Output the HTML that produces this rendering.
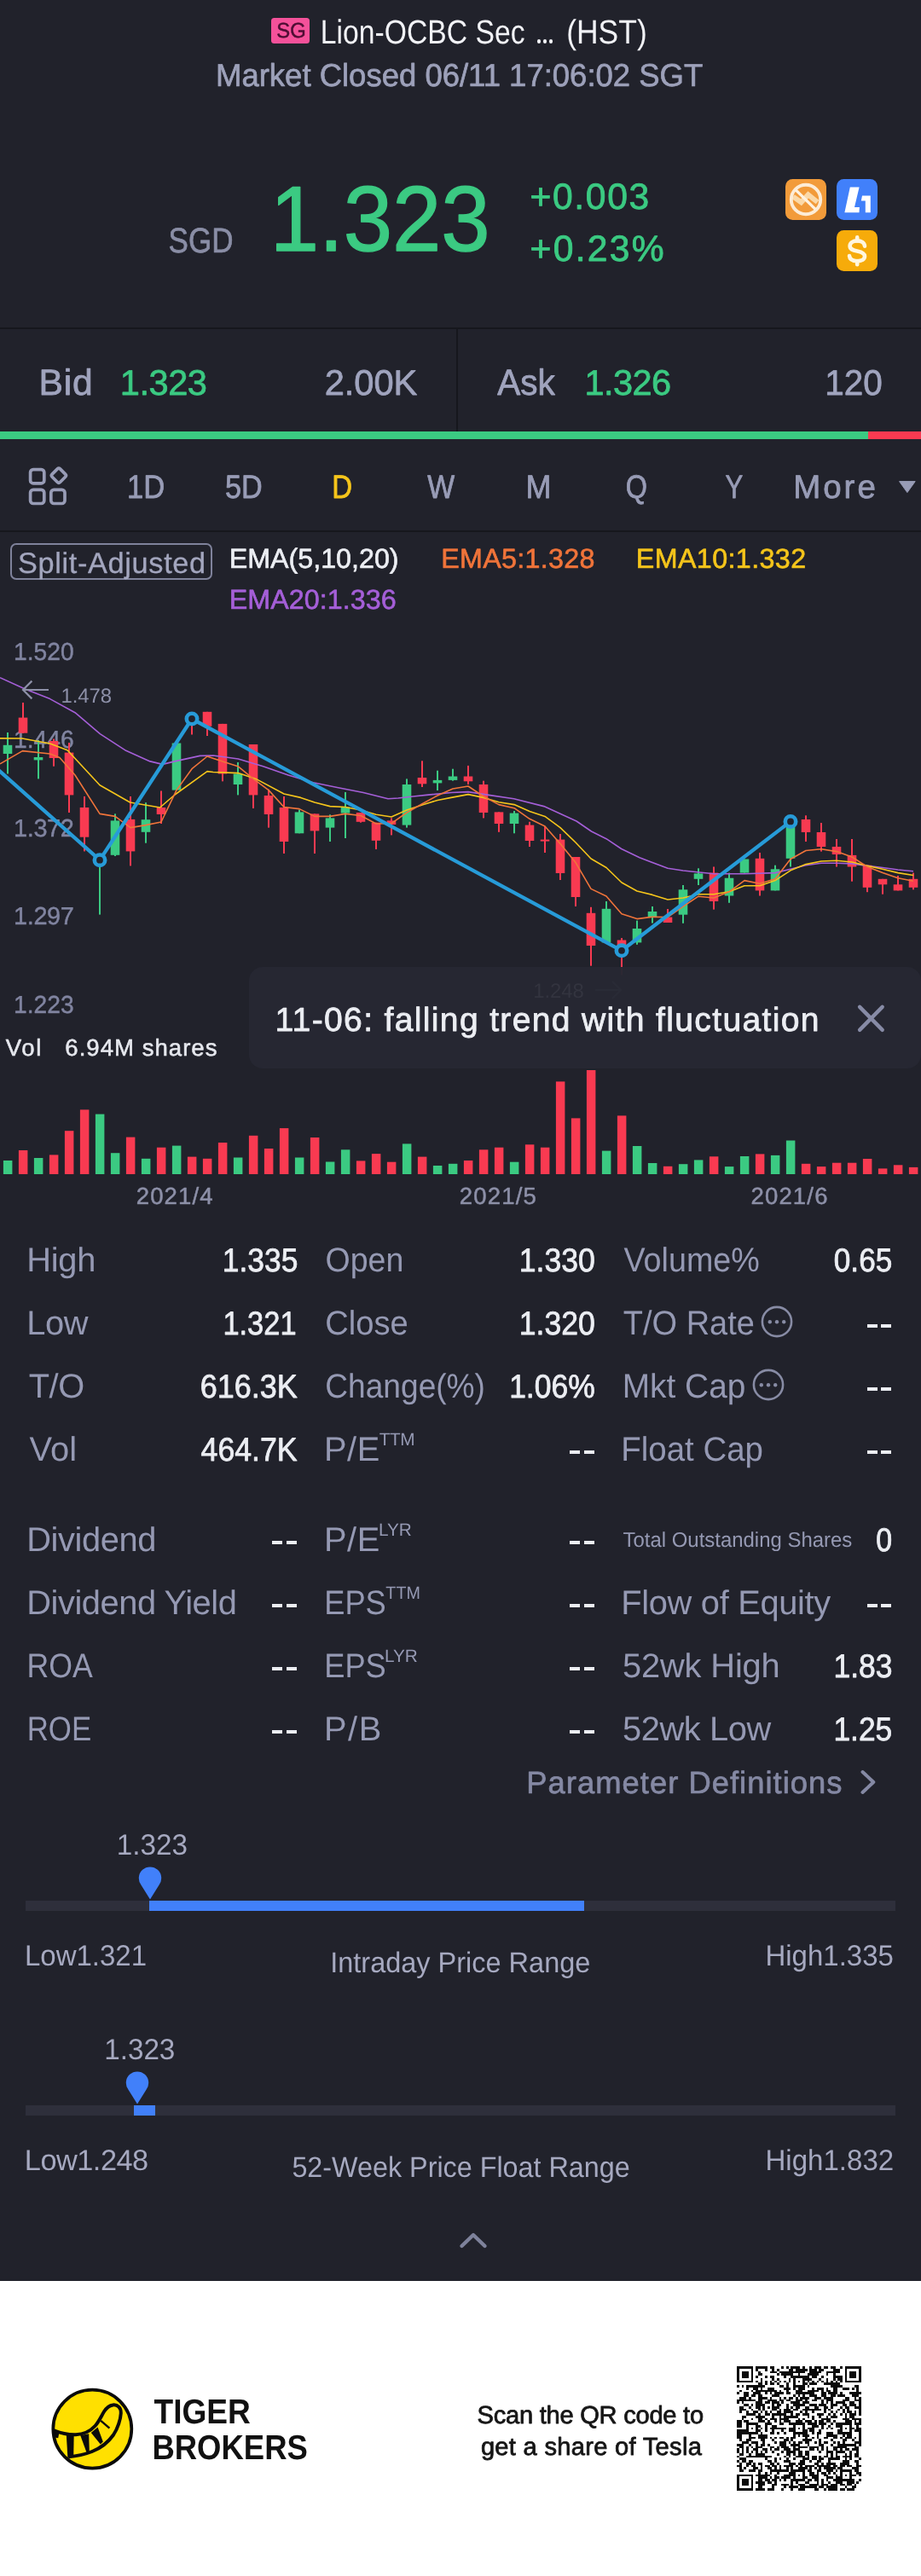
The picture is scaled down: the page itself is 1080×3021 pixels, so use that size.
<!DOCTYPE html>
<html><head><meta charset="utf-8"><title>Lion-OCBC Sec (HST)</title>
<style>
html,body{margin:0;padding:0;}
body{width:1080px;height:3021px;position:relative;overflow:hidden;background:#21222b;font-family:"Liberation Sans",sans-serif;}
.t{position:absolute;white-space:nowrap;line-height:1;margin:0;padding:0;transform-origin:left center;}
.b{position:absolute;display:block;}
</style></head><body>
<div class="b" style="left:317.8px;top:20.6px;width:45.4px;height:30.4px;background:#f4519a;border-radius:3.5px"></div>
<div class="b" style="left:629.7px;top:46.3px;width:4.4px;height:4.4px;border-radius:50%;background:#f1f2f6;box-shadow:7px 0 0 #f1f2f6,14px 0 0 #f1f2f6"></div>
<svg class="b" style="left:921px;top:210px" width="48" height="48" viewBox="0 0 48 48">
<rect width="48" height="48" rx="8.5" fill="#f29b3a"/>
<path d="M9.1 20.6 L18.5 27.2 L26.7 18.4 L37.6 27" fill="none" stroke="#fbd9a8" stroke-width="6" stroke-linejoin="miter"/>
<circle cx="24" cy="24" r="17.2" fill="none" stroke="#fdecd6" stroke-width="3.9"/>
<path d="M12 12.6 L35.4 35.6" stroke="#fef2e0" stroke-width="3.4"/>
</svg>
<svg class="b" style="left:981px;top:210px" width="48" height="48" viewBox="0 0 48 48">
<rect width="48" height="48" rx="8.5" fill="#4180fa"/>
<path d="M15.8 9.6 L26.6 9.6 L21 33 L26.9 33 L26.5 39.2 L9.4 39.2 Z" fill="#fff"/>
<path d="M30 19.4 L39.8 19.4 L39.8 39.2 L33.8 39.2 L33.8 25.4 L28.8 25.4 Z" fill="#fff"/>
</svg>
<svg class="b" style="left:981px;top:270px" width="48" height="48" viewBox="0 0 48 48">
<rect width="48" height="48" rx="8.5" fill="#f6ab0a"/>
<path d="M33 18.6 C32.6 14.4 28.8 12.4 24.2 12.4 C19.2 12.4 15.6 14.8 15.6 18.6 C15.6 22.3 18.6 23.4 24.2 24.5 C29.8 25.6 33 26.9 33 30.6 C33 34.2 29.2 36.2 24.2 36.2 C19 36.2 15.4 34.2 15 30" fill="none" stroke="#fff6de" stroke-width="4.6" stroke-linecap="round"/>
<path d="M24.2 8.4 V12.5 M24.2 36 V40.2" stroke="#fff6de" stroke-width="4.6" stroke-linecap="round"/>
</svg>
<div class="b" style="left:0px;top:384.2px;width:1080px;height:1.6px;background:#16171d;"></div>
<div class="b" style="left:535.2px;top:385px;width:1.6px;height:121px;background:#16171d;"></div>
<div class="b" style="left:0px;top:506px;width:1018px;height:9px;background:#3bca82;"></div>
<div class="b" style="left:1018px;top:506px;width:62px;height:9px;background:#f93a51;"></div>
<svg class="b" style="left:1053px;top:563px" width="22" height="16" viewBox="0 0 22 16"><path d="M1.6 1.6 L20.2 1.6 L10.9 14.6 Z" fill="#989cb6" stroke="#989cb6" stroke-width="1" stroke-linejoin="round"/></svg>
<svg class="b" style="left:32px;top:545px" width="50" height="50" viewBox="0 0 50 50" fill="none" stroke="#989cb6" stroke-width="3.7">
<rect x="3.6" y="5.6" width="16.2" height="16.2" rx="3.4"/>
<rect x="3.6" y="29.3" width="16.2" height="16.2" rx="3.4"/>
<rect x="27.8" y="29.3" width="16.2" height="16.2" rx="3.4"/>
<rect x="30.3" y="6.1" width="13.2" height="13.2" rx="2.2" transform="rotate(45 36.9 12.7)"/>
</svg>
<div class="b" style="left:0px;top:622.3px;width:1080px;height:1.6px;background:#16171d;"></div>
<div class="b" style="left:12.4px;top:636.8px;width:232.6px;height:39px;border:2px solid #7f829b;border-radius:7px"></div>
<svg class="b" style="left:0;top:730px;will-change:transform" width="1080" height="700" viewBox="0 730 1080 700" font-family="Liberation Sans, sans-serif" text-rendering="geometricPrecision">
<text transform="translate(16.08 773.80) scale(0.9751 1)" font-size="28.91" fill="#8084a0" stroke="#8084a0" stroke-width="0.45" stroke-linejoin="round">1.520</text>
<text transform="translate(16.08 877.30) scale(0.9751 1)" font-size="28.91" fill="#8084a0" stroke="#8084a0" stroke-width="0.45" stroke-linejoin="round">1.446</text>
<text x="16.03" y="980.80" font-size="28.91" fill="#8084a0" letter-spacing="-0.371" stroke="#8084a0" stroke-width="0.45" stroke-linejoin="round">1.372</text>
<text x="16.03" y="1084.20" font-size="28.91" fill="#8084a0" letter-spacing="-0.371" stroke="#8084a0" stroke-width="0.45" stroke-linejoin="round">1.297</text>
<text transform="translate(16.08 1187.80) scale(0.9751 1)" font-size="28.91" fill="#8084a0" stroke="#8084a0" stroke-width="0.45" stroke-linejoin="round">1.223</text>
<rect x="8" y="859.0" width="2" height="48.5" fill="#3bca82"/>
<rect x="3.7" y="873.8" width="10.6" height="10.2" fill="#3bca82"/>
<rect x="26" y="824.0" width="2" height="36.0" fill="#f93a51"/>
<rect x="21.7" y="841.6" width="10.6" height="18.1" fill="#f93a51"/>
<rect x="44" y="868.0" width="2" height="45.4" fill="#3bca82"/>
<rect x="39.7" y="888.0" width="10.6" height="3.4" fill="#3bca82"/>
<rect x="62" y="866.5" width="2" height="32.2" fill="#f93a51"/>
<rect x="57.7" y="869.0" width="10.6" height="20.0" fill="#f93a51"/>
<rect x="80" y="871.0" width="2" height="82.0" fill="#f93a51"/>
<rect x="75.7" y="882.6" width="10.6" height="49.8" fill="#f93a51"/>
<rect x="98" y="934.0" width="2" height="64.4" fill="#f93a51"/>
<rect x="93.7" y="947.0" width="10.6" height="34.7" fill="#f93a51"/>
<rect x="116" y="1003.0" width="2" height="69.6" fill="#3bca82"/>
<rect x="111.7" y="1003.0" width="10.6" height="5.0" fill="#3bca82"/>
<rect x="134" y="954.4" width="2" height="49.6" fill="#3bca82"/>
<rect x="129.7" y="962.4" width="10.6" height="40.4" fill="#3bca82"/>
<rect x="152" y="934.0" width="2" height="81.4" fill="#f93a51"/>
<rect x="147.7" y="960.9" width="10.6" height="37.5" fill="#f93a51"/>
<rect x="170" y="941.2" width="2" height="47.5" fill="#3bca82"/>
<rect x="165.7" y="961.2" width="10.6" height="14.6" fill="#3bca82"/>
<rect x="188" y="927.5" width="2" height="38.5" fill="#f93a51"/>
<rect x="183.7" y="947.0" width="10.6" height="8.0" fill="#f93a51"/>
<rect x="206" y="871.5" width="2" height="55.1" fill="#3bca82"/>
<rect x="201.7" y="871.5" width="10.6" height="55.1" fill="#3bca82"/>
<rect x="224" y="840.0" width="2" height="21.5" fill="#f93a51"/>
<rect x="219.7" y="840.0" width="10.6" height="6.0" fill="#f93a51"/>
<rect x="242" y="834.8" width="2" height="28.2" fill="#f93a51"/>
<rect x="237.7" y="834.8" width="10.6" height="17.0" fill="#f93a51"/>
<rect x="260" y="848.9" width="2" height="67.4" fill="#f93a51"/>
<rect x="255.7" y="848.9" width="10.6" height="58.6" fill="#f93a51"/>
<rect x="278" y="894.0" width="2" height="38.4" fill="#3bca82"/>
<rect x="273.7" y="907.5" width="10.6" height="12.5" fill="#3bca82"/>
<rect x="296" y="873.0" width="2" height="75.0" fill="#f93a51"/>
<rect x="291.7" y="873.0" width="10.6" height="59.4" fill="#f93a51"/>
<rect x="314" y="925.7" width="2" height="44.9" fill="#f93a51"/>
<rect x="309.7" y="933.0" width="10.6" height="22.0" fill="#f93a51"/>
<rect x="332" y="934.0" width="2" height="67.0" fill="#f93a51"/>
<rect x="327.7" y="947.0" width="10.6" height="40.0" fill="#f93a51"/>
<rect x="350" y="949.5" width="2" height="27.8" fill="#3bca82"/>
<rect x="345.7" y="952.4" width="10.6" height="24.9" fill="#3bca82"/>
<rect x="368" y="954.4" width="2" height="46.6" fill="#f93a51"/>
<rect x="363.7" y="954.4" width="10.6" height="20.0" fill="#f93a51"/>
<rect x="386" y="955.3" width="2" height="31.7" fill="#3bca82"/>
<rect x="381.7" y="959.4" width="10.6" height="11.2" fill="#3bca82"/>
<rect x="404" y="929.0" width="2" height="54.0" fill="#3bca82"/>
<rect x="399.7" y="946.5" width="10.6" height="7.1" fill="#3bca82"/>
<rect x="422" y="953.0" width="2" height="11.7" fill="#f93a51"/>
<rect x="417.7" y="953.0" width="10.6" height="10.8" fill="#f93a51"/>
<rect x="440" y="964.7" width="2" height="31.3" fill="#f93a51"/>
<rect x="435.7" y="964.7" width="10.6" height="21.1" fill="#f93a51"/>
<rect x="458" y="959.4" width="2" height="20.0" fill="#f93a51"/>
<rect x="453.7" y="962.4" width="10.6" height="4.6" fill="#f93a51"/>
<rect x="476" y="913.4" width="2" height="57.2" fill="#3bca82"/>
<rect x="471.7" y="920.0" width="10.6" height="47.6" fill="#3bca82"/>
<rect x="494" y="892.3" width="2" height="30.7" fill="#f93a51"/>
<rect x="489.7" y="912.0" width="10.6" height="7.3" fill="#f93a51"/>
<rect x="512" y="903.7" width="2" height="23.3" fill="#3bca82"/>
<rect x="507.7" y="914.9" width="10.6" height="3.5" fill="#3bca82"/>
<rect x="530" y="901.7" width="2" height="14.0" fill="#3bca82"/>
<rect x="525.7" y="910.5" width="10.6" height="4.4" fill="#3bca82"/>
<rect x="548" y="897.9" width="2" height="22.1" fill="#f93a51"/>
<rect x="543.7" y="910.5" width="10.6" height="5.8" fill="#f93a51"/>
<rect x="566" y="915.7" width="2" height="43.7" fill="#f93a51"/>
<rect x="561.7" y="920.0" width="10.6" height="33.0" fill="#f93a51"/>
<rect x="584" y="952.4" width="2" height="23.4" fill="#f93a51"/>
<rect x="579.7" y="952.4" width="10.6" height="13.6" fill="#f93a51"/>
<rect x="602" y="951.0" width="2" height="26.3" fill="#3bca82"/>
<rect x="597.7" y="953.6" width="10.6" height="12.4" fill="#3bca82"/>
<rect x="620" y="963.8" width="2" height="29.2" fill="#f93a51"/>
<rect x="615.7" y="967.6" width="10.6" height="18.4" fill="#f93a51"/>
<rect x="638" y="969.0" width="2" height="31.0" fill="#f93a51"/>
<rect x="633.7" y="984.6" width="10.6" height="2.0" fill="#f93a51"/>
<rect x="656" y="978.0" width="2" height="54.0" fill="#f93a51"/>
<rect x="651.7" y="984.6" width="10.6" height="39.4" fill="#f93a51"/>
<rect x="674" y="1005.0" width="2" height="58.0" fill="#f93a51"/>
<rect x="669.7" y="1005.0" width="10.6" height="47.0" fill="#f93a51"/>
<rect x="692" y="1063.8" width="2" height="68.9" fill="#f93a51"/>
<rect x="687.7" y="1070.8" width="10.6" height="38.2" fill="#f93a51"/>
<rect x="710" y="1057.0" width="2" height="48.4" fill="#3bca82"/>
<rect x="705.7" y="1065.8" width="10.6" height="39.6" fill="#3bca82"/>
<rect x="728" y="1100.0" width="2" height="43.5" fill="#f93a51"/>
<rect x="723.7" y="1102.5" width="10.6" height="9.5" fill="#f93a51"/>
<rect x="746" y="1079.6" width="2" height="28.2" fill="#3bca82"/>
<rect x="741.7" y="1089.0" width="10.6" height="16.4" fill="#3bca82"/>
<rect x="764" y="1063.0" width="2" height="19.6" fill="#3bca82"/>
<rect x="759.7" y="1069.0" width="10.6" height="7.0" fill="#3bca82"/>
<rect x="782" y="1066.0" width="2" height="16.0" fill="#f93a51"/>
<rect x="777.7" y="1075.6" width="10.6" height="6.4" fill="#f93a51"/>
<rect x="800" y="1038.0" width="2" height="44.8" fill="#3bca82"/>
<rect x="795.7" y="1043.3" width="10.6" height="29.4" fill="#3bca82"/>
<rect x="818" y="1018.3" width="2" height="19.7" fill="#3bca82"/>
<rect x="813.7" y="1024.4" width="10.6" height="6.4" fill="#3bca82"/>
<rect x="836" y="1016.5" width="2" height="50.1" fill="#f93a51"/>
<rect x="831.7" y="1023.6" width="10.6" height="33.4" fill="#f93a51"/>
<rect x="854" y="1023.6" width="2" height="35.2" fill="#3bca82"/>
<rect x="849.7" y="1029.7" width="10.6" height="20.8" fill="#3bca82"/>
<rect x="872" y="1007.5" width="2" height="16.1" fill="#3bca82"/>
<rect x="867.7" y="1007.5" width="10.6" height="16.1" fill="#3bca82"/>
<rect x="890" y="1000.0" width="2" height="50.5" fill="#f93a51"/>
<rect x="885.7" y="1006.8" width="10.6" height="37.6" fill="#f93a51"/>
<rect x="908" y="1014.7" width="2" height="29.7" fill="#3bca82"/>
<rect x="903.7" y="1019.3" width="10.6" height="25.1" fill="#3bca82"/>
<rect x="926" y="970.0" width="2" height="46.5" fill="#3bca82"/>
<rect x="921.7" y="970.0" width="10.6" height="36.8" fill="#3bca82"/>
<rect x="944" y="956.3" width="2" height="30.7" fill="#f93a51"/>
<rect x="939.7" y="961.0" width="10.6" height="15.0" fill="#f93a51"/>
<rect x="962" y="965.0" width="2" height="33.6" fill="#f93a51"/>
<rect x="957.7" y="976.0" width="10.6" height="17.0" fill="#f93a51"/>
<rect x="980" y="984.0" width="2" height="32.5" fill="#f93a51"/>
<rect x="975.7" y="993.0" width="10.6" height="9.0" fill="#f93a51"/>
<rect x="998" y="984.0" width="2" height="49.7" fill="#f93a51"/>
<rect x="993.7" y="1002.9" width="10.6" height="13.6" fill="#f93a51"/>
<rect x="1016" y="1014.7" width="2" height="31.5" fill="#f93a51"/>
<rect x="1011.7" y="1014.7" width="10.6" height="26.1" fill="#f93a51"/>
<rect x="1034" y="1030.8" width="2" height="17.9" fill="#f93a51"/>
<rect x="1029.7" y="1030.8" width="10.6" height="6.5" fill="#f93a51"/>
<rect x="1052" y="1027.0" width="2" height="17.4" fill="#f93a51"/>
<rect x="1047.7" y="1037.3" width="10.6" height="7.1" fill="#f93a51"/>
<rect x="1070" y="1023.6" width="2" height="19.7" fill="#f93a51"/>
<rect x="1065.7" y="1030.8" width="10.6" height="10.0" fill="#f93a51"/>
<polyline points="0.0,794.7 29.3,807.9 58.6,819.6 88.0,835.7 117.3,860.6 146.6,879.7 176.0,892.9 190.6,896.4 205.0,892.9 234.5,886.4 250.0,886.0 279.3,890.0 308.6,898.7 338.0,909.0 367.3,917.8 396.6,923.7 426.0,929.5 455.0,936.8 467.0,936.0 484.5,934.0 500.0,932.4 529.0,929.5 549.0,928.6 573.0,932.4 602.6,936.8 637.8,945.6 676.0,963.0 693.5,975.0 711.0,983.7 728.7,995.5 750.0,1005.7 783.0,1018.3 801.0,1021.0 837.0,1024.7 873.0,1024.7 909.0,1023.6 927.0,1019.3 945.0,1014.7 963.0,1012.2 981.0,1012.2 999.0,1012.9 1017.0,1015.4 1035.0,1017.5 1053.0,1020.0 1071.0,1021.8" fill="none" stroke="#a55fd8" stroke-width="1.6" stroke-linejoin="round"/>
<polyline points="0.0,865.9 26.0,866.0 58.6,872.0 79.0,879.7 117.0,920.7 152.5,941.0 187.6,947.0 205.0,932.0 243.0,904.6 250.0,905.5 279.3,906.6 300.0,913.4 333.0,931.0 352.6,935.4 369.0,941.0 387.0,945.6 405.0,946.5 423.0,950.0 441.0,955.3 459.0,958.0 477.0,950.0 495.0,944.0 513.0,938.5 529.0,935.4 549.0,931.6 567.0,935.4 585.0,940.7 603.0,943.6 621.0,951.5 639.0,957.4 657.0,970.6 675.0,988.0 693.0,1007.0 711.0,1017.5 729.0,1035.0 747.0,1045.0 765.0,1049.4 783.0,1055.0 801.0,1053.0 819.0,1048.7 837.0,1048.7 855.0,1045.8 873.0,1038.7 891.0,1038.7 909.0,1032.6 927.0,1020.8 945.0,1013.6 963.0,1010.0 981.0,1009.3 999.0,1011.0 1017.0,1015.4 1035.0,1019.3 1053.0,1023.6 1071.0,1026.5" fill="none" stroke="#f5c51b" stroke-width="1.6" stroke-linejoin="round"/>
<polyline points="0.0,895.8 26.4,880.6 58.6,884.0 70.0,888.5 88.0,909.0 117.0,954.4 135.0,957.4 153.0,970.6 171.0,967.6 189.0,964.0 207.0,926.6 225.0,901.7 243.0,887.0 261.0,893.0 279.0,898.7 297.0,913.4 315.0,926.6 333.0,946.5 351.0,948.6 369.0,957.4 387.0,957.4 405.0,954.4 423.0,956.5 441.0,966.0 459.0,965.6 477.0,953.0 495.0,942.7 513.0,933.0 531.0,925.0 549.0,922.0 567.0,934.0 585.0,943.6 603.0,947.7 621.0,960.3 639.0,969.0 657.0,989.6 675.0,1011.6 693.0,1042.4 711.0,1051.0 729.0,1071.7 747.0,1077.6 765.0,1075.2 783.0,1075.6 801.0,1063.0 819.0,1051.2 837.0,1053.0 855.0,1045.8 873.0,1032.6 891.0,1036.2 909.0,1030.8 927.0,1007.5 945.0,997.5 963.0,995.7 981.0,998.6 999.0,1005.0 1017.0,1016.5 1035.0,1023.6 1053.0,1029.7 1071.0,1033.3" fill="none" stroke="#f0743a" stroke-width="1.6" stroke-linejoin="round"/>
<polyline points="-4.0,901.0 117.0,1008.7 225.0,843.0 729.0,1114.8 927.0,963.4" fill="none" stroke="#279bd8" stroke-width="4.3" stroke-linejoin="round"/>
<circle cx="117" cy="1008.7" r="6.2" fill="#21222b" stroke="#279bd8" stroke-width="4.6"/>
<circle cx="225" cy="843" r="6.2" fill="#21222b" stroke="#279bd8" stroke-width="4.6"/>
<circle cx="729" cy="1114.8" r="6.2" fill="#21222b" stroke="#279bd8" stroke-width="4.6"/>
<circle cx="927" cy="963.4" r="6.2" fill="#21222b" stroke="#279bd8" stroke-width="4.6"/>
<path d="M27 809 H57 M37.4 798.6 L27 809 L37.4 819.4" fill="none" stroke="#8d90a8" stroke-width="2.2"/>
<rect x="3.9" y="1361.0" width="10.5" height="16.0" fill="#3bca82"/>
<rect x="21.9" y="1349.0" width="10.5" height="28.0" fill="#f93a51"/>
<rect x="39.9" y="1358.0" width="10.5" height="19.0" fill="#3bca82"/>
<rect x="57.9" y="1354.4" width="10.5" height="22.6" fill="#f93a51"/>
<rect x="75.9" y="1326.2" width="10.5" height="50.8" fill="#f93a51"/>
<rect x="93.9" y="1301.4" width="10.5" height="75.6" fill="#f93a51"/>
<rect x="111.9" y="1306.6" width="10.5" height="70.4" fill="#3bca82"/>
<rect x="129.9" y="1352.2" width="10.5" height="24.8" fill="#3bca82"/>
<rect x="147.9" y="1333.6" width="10.5" height="43.4" fill="#f93a51"/>
<rect x="165.9" y="1358.8" width="10.5" height="18.2" fill="#3bca82"/>
<rect x="183.9" y="1345.7" width="10.5" height="31.3" fill="#f93a51"/>
<rect x="201.9" y="1343.6" width="10.5" height="33.4" fill="#3bca82"/>
<rect x="219.9" y="1356.6" width="10.5" height="20.4" fill="#f93a51"/>
<rect x="237.9" y="1358.8" width="10.5" height="18.2" fill="#f93a51"/>
<rect x="255.9" y="1340.0" width="10.5" height="37.0" fill="#f93a51"/>
<rect x="273.9" y="1357.5" width="10.5" height="19.5" fill="#3bca82"/>
<rect x="291.9" y="1331.8" width="10.5" height="45.2" fill="#f93a51"/>
<rect x="309.9" y="1347.0" width="10.5" height="30.0" fill="#f93a51"/>
<rect x="327.9" y="1323.1" width="10.5" height="53.9" fill="#f93a51"/>
<rect x="345.9" y="1357.5" width="10.5" height="19.5" fill="#3bca82"/>
<rect x="363.9" y="1334.0" width="10.5" height="43.0" fill="#f93a51"/>
<rect x="381.9" y="1362.5" width="10.5" height="14.5" fill="#3bca82"/>
<rect x="399.9" y="1348.3" width="10.5" height="28.7" fill="#3bca82"/>
<rect x="417.9" y="1361.4" width="10.5" height="15.6" fill="#f93a51"/>
<rect x="435.9" y="1353.1" width="10.5" height="23.9" fill="#f93a51"/>
<rect x="453.9" y="1362.7" width="10.5" height="14.3" fill="#f93a51"/>
<rect x="471.9" y="1341.4" width="10.5" height="35.6" fill="#3bca82"/>
<rect x="489.9" y="1356.6" width="10.5" height="20.4" fill="#f93a51"/>
<rect x="507.9" y="1367.0" width="10.5" height="10.0" fill="#3bca82"/>
<rect x="525.9" y="1364.8" width="10.5" height="12.2" fill="#3bca82"/>
<rect x="543.9" y="1361.0" width="10.5" height="16.0" fill="#f93a51"/>
<rect x="561.9" y="1348.3" width="10.5" height="28.7" fill="#f93a51"/>
<rect x="579.9" y="1345.7" width="10.5" height="31.3" fill="#f93a51"/>
<rect x="597.9" y="1362.7" width="10.5" height="14.3" fill="#3bca82"/>
<rect x="615.9" y="1342.3" width="10.5" height="34.7" fill="#f93a51"/>
<rect x="633.9" y="1345.7" width="10.5" height="31.3" fill="#f93a51"/>
<rect x="651.9" y="1268.4" width="10.5" height="108.6" fill="#f93a51"/>
<rect x="669.9" y="1311.4" width="10.5" height="65.6" fill="#f93a51"/>
<rect x="687.9" y="1255.0" width="10.5" height="122.0" fill="#f93a51"/>
<rect x="705.9" y="1349.6" width="10.5" height="27.4" fill="#3bca82"/>
<rect x="723.9" y="1308.4" width="10.5" height="68.6" fill="#f93a51"/>
<rect x="741.9" y="1344.0" width="10.5" height="33.0" fill="#3bca82"/>
<rect x="759.9" y="1364.0" width="10.5" height="13.0" fill="#3bca82"/>
<rect x="777.9" y="1367.8" width="10.5" height="9.2" fill="#f93a51"/>
<rect x="795.9" y="1365.2" width="10.5" height="11.8" fill="#3bca82"/>
<rect x="813.9" y="1360.4" width="10.5" height="16.6" fill="#3bca82"/>
<rect x="831.9" y="1356.3" width="10.5" height="20.7" fill="#f93a51"/>
<rect x="849.9" y="1368.1" width="10.5" height="8.9" fill="#3bca82"/>
<rect x="867.9" y="1356.0" width="10.5" height="21.0" fill="#3bca82"/>
<rect x="885.9" y="1353.4" width="10.5" height="23.6" fill="#f93a51"/>
<rect x="903.9" y="1354.9" width="10.5" height="22.1" fill="#3bca82"/>
<rect x="921.9" y="1337.5" width="10.5" height="39.5" fill="#3bca82"/>
<rect x="939.9" y="1364.8" width="10.5" height="12.2" fill="#f93a51"/>
<rect x="957.9" y="1368.1" width="10.5" height="8.9" fill="#f93a51"/>
<rect x="975.9" y="1363.7" width="10.5" height="13.3" fill="#f93a51"/>
<rect x="993.9" y="1363.7" width="10.5" height="13.3" fill="#f93a51"/>
<rect x="1011.9" y="1359.0" width="10.5" height="18.0" fill="#f93a51"/>
<rect x="1029.9" y="1370.4" width="10.5" height="6.6" fill="#f93a51"/>
<rect x="1047.9" y="1366.3" width="10.5" height="10.7" fill="#f93a51"/>
<rect x="1065.9" y="1368.9" width="10.5" height="8.1" fill="#f93a51"/>
</svg>
<svg class="b" style="left:695px;top:1148px" width="40" height="26" viewBox="0 0 40 26"><path d="M3 13 H33 M23 3 L33 13 L23 23" fill="none" stroke="#8d90a8" stroke-width="2"/></svg>
<div class="b" style="left:292px;top:1133.5px;width:788px;height:119.2px;background:rgba(38,39,51,0.97);border-radius:16px"></div>
<svg class="b" style="left:1003px;top:1176px" width="38" height="38" viewBox="0 0 38 38"><path d="M5.1 4.9 L31.7 31.9 M31.7 4.9 L5.1 31.9" stroke="#878ba6" stroke-width="4.4" stroke-linecap="round"/></svg>
<div class="b" style="left:318.8px;top:1806.5px;width:12px;height:4.4px;background:#eceef3;"></div>
<div class="b" style="left:335.5px;top:1806.5px;width:12px;height:4.4px;background:#eceef3;"></div>
<div class="b" style="left:318.8px;top:1880.5px;width:12px;height:4.4px;background:#eceef3;"></div>
<div class="b" style="left:335.5px;top:1880.5px;width:12px;height:4.4px;background:#eceef3;"></div>
<div class="b" style="left:318.8px;top:1954.5px;width:12px;height:4.4px;background:#eceef3;"></div>
<div class="b" style="left:335.5px;top:1954.5px;width:12px;height:4.4px;background:#eceef3;"></div>
<div class="b" style="left:318.8px;top:2028.5px;width:12px;height:4.4px;background:#eceef3;"></div>
<div class="b" style="left:335.5px;top:2028.5px;width:12px;height:4.4px;background:#eceef3;"></div>
<div class="b" style="left:668.3px;top:1700.5px;width:12px;height:4.4px;background:#eceef3;"></div>
<div class="b" style="left:685px;top:1700.5px;width:12px;height:4.4px;background:#eceef3;"></div>
<div class="b" style="left:668.3px;top:1806.5px;width:12px;height:4.4px;background:#eceef3;"></div>
<div class="b" style="left:685px;top:1806.5px;width:12px;height:4.4px;background:#eceef3;"></div>
<div class="b" style="left:668.3px;top:1880.5px;width:12px;height:4.4px;background:#eceef3;"></div>
<div class="b" style="left:685px;top:1880.5px;width:12px;height:4.4px;background:#eceef3;"></div>
<div class="b" style="left:668.3px;top:1954.5px;width:12px;height:4.4px;background:#eceef3;"></div>
<div class="b" style="left:685px;top:1954.5px;width:12px;height:4.4px;background:#eceef3;"></div>
<div class="b" style="left:668.3px;top:2028.5px;width:12px;height:4.4px;background:#eceef3;"></div>
<div class="b" style="left:685px;top:2028.5px;width:12px;height:4.4px;background:#eceef3;"></div>
<svg class="b" style="left:890.8px;top:1529.5px" width="40" height="40" viewBox="0 0 40 40"><circle cx="20" cy="20" r="17.1" fill="none" stroke="#878ba4" stroke-width="2.6"/><circle cx="11.8" cy="20.2" r="2.2" fill="#878ba4"/><circle cx="20" cy="20.2" r="2.2" fill="#878ba4"/><circle cx="28.2" cy="20.2" r="2.2" fill="#878ba4"/></svg>
<div class="b" style="left:1016.5999999999999px;top:1552.5px;width:12px;height:4.4px;background:#eceef3;"></div>
<div class="b" style="left:1033.3px;top:1552.5px;width:12px;height:4.4px;background:#eceef3;"></div>
<svg class="b" style="left:880.6px;top:1603.7px" width="40" height="40" viewBox="0 0 40 40"><circle cx="20" cy="20" r="17.1" fill="none" stroke="#878ba4" stroke-width="2.6"/><circle cx="11.8" cy="20.2" r="2.2" fill="#878ba4"/><circle cx="20" cy="20.2" r="2.2" fill="#878ba4"/><circle cx="28.2" cy="20.2" r="2.2" fill="#878ba4"/></svg>
<div class="b" style="left:1016.5999999999999px;top:1626.5px;width:12px;height:4.4px;background:#eceef3;"></div>
<div class="b" style="left:1033.3px;top:1626.5px;width:12px;height:4.4px;background:#eceef3;"></div>
<div class="b" style="left:1016.5999999999999px;top:1700.5px;width:12px;height:4.4px;background:#eceef3;"></div>
<div class="b" style="left:1033.3px;top:1700.5px;width:12px;height:4.4px;background:#eceef3;"></div>
<div class="b" style="left:1016.5999999999999px;top:1880.5px;width:12px;height:4.4px;background:#eceef3;"></div>
<div class="b" style="left:1033.3px;top:1880.5px;width:12px;height:4.4px;background:#eceef3;"></div>
<svg class="b" style="left:1003px;top:2072px" width="30" height="36" viewBox="0 0 30 36"><path d="M8.5 6 L21.3 18 L8.5 30" fill="none" stroke="#8589a4" stroke-width="4" stroke-linecap="round" stroke-linejoin="round"/></svg>
<div class="b" style="left:30px;top:2228.5px;width:1020px;height:12.5px;background:#2e2f3b;"></div>
<div class="b" style="left:175.3px;top:2228.5px;width:510.09999999999997px;height:12.5px;background:#4180fa;"></div>
<svg class="b" style="left:160.5px;top:2189.0px" width="30" height="40" viewBox="0 0 30 40"><path d="M15 38.5 L4.4 21.5 A13.2 13.2 0 1 1 25.6 21.5 Z" fill="#4180fa"/></svg>
<div class="b" style="left:30px;top:2468.5px;width:1020px;height:12.5px;background:#2e2f3b;"></div>
<div class="b" style="left:157px;top:2468.5px;width:25.30000000000001px;height:12.5px;background:#4180fa;"></div>
<svg class="b" style="left:145.6px;top:2429.0px" width="30" height="40" viewBox="0 0 30 40"><path d="M15 38.5 L4.4 21.5 A13.2 13.2 0 1 1 25.6 21.5 Z" fill="#4180fa"/></svg>
<svg class="b" style="left:535px;top:2612px" width="40" height="30" viewBox="0 0 40 30"><path d="M6.5 22 L20 9 L33.5 22" fill="none" stroke="#7e829b" stroke-width="4.4" stroke-linecap="round" stroke-linejoin="round"/></svg>
<div class="b" style="left:0px;top:2675px;width:1080px;height:346px;background:#ffffff;"></div>
<svg class="b" style="left:50px;top:2790px" width="120" height="120" viewBox="0 0 120 120">
<circle cx="58.3" cy="58.6" r="46" fill="#ffe000"/>
<path d="M13.2 60.4 C22 63.8 30 65.5 39 65.2 C48 64.8 56 61 61.5 55 C66 50 69 43 72.3 37.8 C75 33.5 78 31 82.5 30.4 C88 29.8 92 34 91.8 40 C91.5 47 88 58 83 65.5 C77 74 68 81 58 85 C49 88.5 40 90.5 30.5 91.2" fill="none" stroke="#0b0b0b" stroke-width="4" stroke-linecap="butt"/>
<path d="M12.6 57.6 L19.5 62.2 L18.2 69.2 L13.4 68.4 Z" fill="#0b0b0b"/>
<path d="M27.8 65 L36.7 65 L36.2 91.5 L29.4 92.6 Z" fill="#0b0b0b"/>
<path d="M44.2 66 L54.2 64.2 L54.8 84.6 L51.4 85.8 Z" fill="#0b0b0b"/>
<path d="M56.8 63 L64.6 56.4 L70.8 73.4 L67.8 76.4 Z" fill="#0b0b0b"/>
<path d="M68.2 48.8 L78.4 57.6" stroke="#0b0b0b" stroke-width="2.4" fill="none"/>
<circle cx="58.3" cy="58.6" r="46" fill="none" stroke="#0b0b0b" stroke-width="3.7"/>
</svg>
<svg class="b" style="left:864px;top:2775px" width="146" height="146" viewBox="0 0 53 53" shape-rendering="crispEdges"><path d="M0 0h7v1h-7zM8 0h5v1h-5zM14 0h2v1h-2zM19 0h1v1h-1zM21 0h1v1h-1zM23 0h4v1h-4zM28 0h1v1h-1zM31 0h1v1h-1zM33 0h3v1h-3zM37 0h2v1h-2zM40 0h2v1h-2zM44 0h1v1h-1zM46 0h7v1h-7zM0 1h1v1h-1zM6 1h1v1h-1zM8 1h1v1h-1zM12 1h1v1h-1zM15 1h1v1h-1zM17 1h1v1h-1zM22 1h2v1h-2zM25 1h5v1h-5zM31 1h3v1h-3zM35 1h2v1h-2zM41 1h3v1h-3zM46 1h1v1h-1zM52 1h1v1h-1zM0 2h1v1h-1zM2 2h3v1h-3zM6 2h1v1h-1zM9 2h1v1h-1zM14 2h3v1h-3zM18 2h11v1h-11zM31 2h5v1h-5zM38 2h6v1h-6zM46 2h1v1h-1zM48 2h3v1h-3zM52 2h1v1h-1zM0 3h1v1h-1zM2 3h3v1h-3zM6 3h1v1h-1zM9 3h2v1h-2zM17 3h1v1h-1zM19 3h5v1h-5zM26 3h1v1h-1zM30 3h5v1h-5zM38 3h1v1h-1zM41 3h1v1h-1zM46 3h1v1h-1zM48 3h3v1h-3zM52 3h1v1h-1zM0 4h1v1h-1zM2 4h3v1h-3zM6 4h1v1h-1zM8 4h1v1h-1zM12 4h1v1h-1zM14 4h2v1h-2zM20 4h1v1h-1zM23 4h8v1h-8zM32 4h2v1h-2zM36 4h1v1h-1zM41 4h4v1h-4zM46 4h1v1h-1zM48 4h3v1h-3zM52 4h1v1h-1zM0 5h1v1h-1zM6 5h1v1h-1zM10 5h1v1h-1zM15 5h1v1h-1zM17 5h1v1h-1zM22 5h1v1h-1zM24 5h1v1h-1zM28 5h4v1h-4zM35 5h1v1h-1zM38 5h1v1h-1zM41 5h1v1h-1zM43 5h2v1h-2zM46 5h1v1h-1zM52 5h1v1h-1zM0 6h7v1h-7zM8 6h1v1h-1zM10 6h1v1h-1zM12 6h1v1h-1zM14 6h1v1h-1zM16 6h1v1h-1zM18 6h1v1h-1zM20 6h1v1h-1zM22 6h1v1h-1zM24 6h1v1h-1zM26 6h1v1h-1zM28 6h1v1h-1zM30 6h1v1h-1zM32 6h1v1h-1zM34 6h1v1h-1zM36 6h1v1h-1zM38 6h1v1h-1zM40 6h1v1h-1zM42 6h1v1h-1zM44 6h1v1h-1zM46 6h7v1h-7zM9 7h2v1h-2zM12 7h1v1h-1zM14 7h2v1h-2zM17 7h1v1h-1zM21 7h1v1h-1zM24 7h1v1h-1zM28 7h2v1h-2zM31 7h3v1h-3zM37 7h7v1h-7zM0 8h1v1h-1zM2 8h1v1h-1zM4 8h8v1h-8zM18 8h2v1h-2zM21 8h1v1h-1zM24 8h5v1h-5zM30 8h1v1h-1zM40 8h5v1h-5zM50 8h2v1h-2zM4 9h1v1h-1zM7 9h2v1h-2zM10 9h1v1h-1zM13 9h3v1h-3zM20 9h3v1h-3zM24 9h1v1h-1zM26 9h3v1h-3zM32 9h1v1h-1zM34 9h3v1h-3zM38 9h1v1h-1zM41 9h2v1h-2zM45 9h3v1h-3zM49 9h1v1h-1zM51 9h1v1h-1zM1 10h1v1h-1zM6 10h1v1h-1zM8 10h9v1h-9zM18 10h1v1h-1zM21 10h1v1h-1zM25 10h3v1h-3zM30 10h5v1h-5zM36 10h1v1h-1zM38 10h2v1h-2zM41 10h2v1h-2zM51 10h1v1h-1zM0 11h1v1h-1zM3 11h2v1h-2zM7 11h3v1h-3zM12 11h1v1h-1zM14 11h1v1h-1zM16 11h4v1h-4zM21 11h2v1h-2zM25 11h8v1h-8zM36 11h2v1h-2zM39 11h4v1h-4zM44 11h1v1h-1zM48 11h5v1h-5zM3 12h2v1h-2zM6 12h2v1h-2zM9 12h2v1h-2zM15 12h3v1h-3zM24 12h1v1h-1zM26 12h1v1h-1zM28 12h1v1h-1zM31 12h3v1h-3zM36 12h2v1h-2zM40 12h2v1h-2zM43 12h3v1h-3zM49 12h3v1h-3zM1 13h3v1h-3zM5 13h1v1h-1zM9 13h4v1h-4zM14 13h1v1h-1zM18 13h1v1h-1zM20 13h1v1h-1zM22 13h2v1h-2zM25 13h1v1h-1zM27 13h4v1h-4zM33 13h3v1h-3zM37 13h4v1h-4zM46 13h2v1h-2zM50 13h1v1h-1zM52 13h1v1h-1zM0 14h8v1h-8zM9 14h2v1h-2zM13 14h4v1h-4zM18 14h2v1h-2zM21 14h2v1h-2zM25 14h3v1h-3zM29 14h1v1h-1zM32 14h2v1h-2zM36 14h1v1h-1zM38 14h3v1h-3zM45 14h3v1h-3zM50 14h3v1h-3zM0 15h1v1h-1zM2 15h1v1h-1zM8 15h3v1h-3zM12 15h2v1h-2zM15 15h3v1h-3zM19 15h1v1h-1zM23 15h4v1h-4zM28 15h3v1h-3zM36 15h1v1h-1zM38 15h1v1h-1zM40 15h1v1h-1zM42 15h4v1h-4zM48 15h2v1h-2zM52 15h1v1h-1zM3 16h2v1h-2zM6 16h1v1h-1zM8 16h4v1h-4zM15 16h1v1h-1zM17 16h2v1h-2zM21 16h1v1h-1zM24 16h5v1h-5zM31 16h3v1h-3zM35 16h3v1h-3zM40 16h3v1h-3zM45 16h2v1h-2zM48 16h3v1h-3zM52 16h1v1h-1zM1 17h2v1h-2zM5 17h1v1h-1zM8 17h2v1h-2zM11 17h1v1h-1zM13 17h1v1h-1zM15 17h3v1h-3zM21 17h1v1h-1zM23 17h1v1h-1zM25 17h2v1h-2zM29 17h2v1h-2zM33 17h2v1h-2zM37 17h2v1h-2zM40 17h1v1h-1zM44 17h1v1h-1zM46 17h2v1h-2zM50 17h3v1h-3zM1 18h3v1h-3zM6 18h1v1h-1zM9 18h1v1h-1zM11 18h1v1h-1zM15 18h2v1h-2zM18 18h1v1h-1zM20 18h3v1h-3zM24 18h2v1h-2zM28 18h8v1h-8zM37 18h1v1h-1zM39 18h1v1h-1zM43 18h1v1h-1zM45 18h1v1h-1zM47 18h1v1h-1zM52 18h1v1h-1zM1 19h1v1h-1zM4 19h1v1h-1zM7 19h2v1h-2zM10 19h1v1h-1zM12 19h1v1h-1zM14 19h1v1h-1zM17 19h2v1h-2zM20 19h4v1h-4zM27 19h1v1h-1zM29 19h1v1h-1zM32 19h1v1h-1zM37 19h1v1h-1zM40 19h1v1h-1zM42 19h1v1h-1zM45 19h1v1h-1zM47 19h2v1h-2zM50 19h1v1h-1zM52 19h1v1h-1zM4 20h4v1h-4zM9 20h1v1h-1zM12 20h2v1h-2zM15 20h6v1h-6zM23 20h1v1h-1zM25 20h2v1h-2zM28 20h3v1h-3zM34 20h3v1h-3zM39 20h1v1h-1zM41 20h1v1h-1zM44 20h1v1h-1zM46 20h1v1h-1zM48 20h3v1h-3zM52 20h1v1h-1zM2 21h2v1h-2zM8 21h4v1h-4zM15 21h1v1h-1zM18 21h1v1h-1zM20 21h6v1h-6zM30 21h1v1h-1zM32 21h1v1h-1zM35 21h1v1h-1zM38 21h1v1h-1zM40 21h3v1h-3zM46 21h1v1h-1zM48 21h2v1h-2zM2 22h1v1h-1zM6 22h1v1h-1zM9 22h2v1h-2zM12 22h1v1h-1zM14 22h3v1h-3zM18 22h4v1h-4zM26 22h1v1h-1zM28 22h1v1h-1zM32 22h1v1h-1zM36 22h4v1h-4zM45 22h3v1h-3zM49 22h4v1h-4zM0 23h2v1h-2zM3 23h2v1h-2zM9 23h3v1h-3zM13 23h1v1h-1zM16 23h1v1h-1zM18 23h1v1h-1zM20 23h3v1h-3zM25 23h3v1h-3zM29 23h3v1h-3zM33 23h1v1h-1zM35 23h2v1h-2zM38 23h2v1h-2zM41 23h1v1h-1zM46 23h3v1h-3zM50 23h1v1h-1zM52 23h1v1h-1zM0 24h2v1h-2zM4 24h5v1h-5zM12 24h3v1h-3zM18 24h2v1h-2zM22 24h7v1h-7zM30 24h4v1h-4zM35 24h3v1h-3zM40 24h1v1h-1zM42 24h7v1h-7zM50 24h3v1h-3zM0 25h2v1h-2zM4 25h1v1h-1zM8 25h2v1h-2zM12 25h1v1h-1zM15 25h2v1h-2zM24 25h1v1h-1zM28 25h1v1h-1zM32 25h3v1h-3zM36 25h1v1h-1zM39 25h1v1h-1zM42 25h3v1h-3zM48 25h1v1h-1zM51 25h1v1h-1zM4 26h1v1h-1zM6 26h1v1h-1zM8 26h1v1h-1zM10 26h1v1h-1zM12 26h1v1h-1zM14 26h7v1h-7zM22 26h3v1h-3zM26 26h1v1h-1zM28 26h1v1h-1zM30 26h3v1h-3zM36 26h1v1h-1zM38 26h1v1h-1zM40 26h1v1h-1zM44 26h1v1h-1zM46 26h1v1h-1zM48 26h2v1h-2zM51 26h2v1h-2zM0 27h5v1h-5zM8 27h2v1h-2zM12 27h1v1h-1zM15 27h1v1h-1zM19 27h1v1h-1zM22 27h3v1h-3zM28 27h2v1h-2zM31 27h2v1h-2zM35 27h1v1h-1zM43 27h2v1h-2zM48 27h1v1h-1zM50 27h3v1h-3zM0 28h9v1h-9zM10 28h1v1h-1zM14 28h2v1h-2zM17 28h1v1h-1zM20 28h1v1h-1zM24 28h6v1h-6zM32 28h1v1h-1zM34 28h2v1h-2zM38 28h3v1h-3zM43 28h6v1h-6zM52 28h1v1h-1zM0 29h2v1h-2zM5 29h1v1h-1zM9 29h4v1h-4zM24 29h1v1h-1zM26 29h1v1h-1zM28 29h3v1h-3zM34 29h1v1h-1zM38 29h5v1h-5zM45 29h1v1h-1zM47 29h2v1h-2zM52 29h1v1h-1zM0 30h2v1h-2zM5 30h3v1h-3zM9 30h4v1h-4zM14 30h1v1h-1zM16 30h1v1h-1zM18 30h2v1h-2zM21 30h1v1h-1zM23 30h2v1h-2zM29 30h1v1h-1zM32 30h1v1h-1zM34 30h1v1h-1zM37 30h2v1h-2zM41 30h2v1h-2zM44 30h1v1h-1zM46 30h3v1h-3zM50 30h1v1h-1zM52 30h1v1h-1zM1 31h1v1h-1zM4 31h2v1h-2zM10 31h2v1h-2zM15 31h1v1h-1zM20 31h2v1h-2zM23 31h1v1h-1zM28 31h4v1h-4zM35 31h1v1h-1zM40 31h1v1h-1zM45 31h2v1h-2zM49 31h1v1h-1zM52 31h1v1h-1zM2 32h3v1h-3zM6 32h3v1h-3zM11 32h1v1h-1zM16 32h1v1h-1zM18 32h3v1h-3zM22 32h1v1h-1zM24 32h1v1h-1zM26 32h2v1h-2zM29 32h2v1h-2zM33 32h1v1h-1zM35 32h1v1h-1zM37 32h2v1h-2zM41 32h1v1h-1zM43 32h1v1h-1zM45 32h1v1h-1zM50 32h3v1h-3zM0 33h3v1h-3zM5 33h1v1h-1zM8 33h1v1h-1zM10 33h2v1h-2zM13 33h1v1h-1zM18 33h3v1h-3zM23 33h4v1h-4zM30 33h1v1h-1zM35 33h2v1h-2zM40 33h1v1h-1zM43 33h8v1h-8zM52 33h1v1h-1zM1 34h2v1h-2zM4 34h1v1h-1zM6 34h1v1h-1zM8 34h3v1h-3zM14 34h2v1h-2zM17 34h1v1h-1zM19 34h3v1h-3zM24 34h1v1h-1zM26 34h4v1h-4zM31 34h4v1h-4zM36 34h1v1h-1zM38 34h1v1h-1zM41 34h6v1h-6zM50 34h2v1h-2zM0 35h1v1h-1zM2 35h1v1h-1zM4 35h1v1h-1zM7 35h2v1h-2zM11 35h2v1h-2zM14 35h1v1h-1zM16 35h2v1h-2zM20 35h3v1h-3zM24 35h3v1h-3zM31 35h2v1h-2zM34 35h1v1h-1zM36 35h1v1h-1zM38 35h1v1h-1zM41 35h2v1h-2zM44 35h1v1h-1zM46 35h2v1h-2zM49 35h3v1h-3zM0 36h1v1h-1zM2 36h1v1h-1zM4 36h1v1h-1zM6 36h1v1h-1zM8 36h1v1h-1zM10 36h1v1h-1zM12 36h1v1h-1zM15 36h1v1h-1zM19 36h1v1h-1zM21 36h4v1h-4zM26 36h2v1h-2zM29 36h2v1h-2zM35 36h1v1h-1zM38 36h3v1h-3zM42 36h4v1h-4zM48 36h1v1h-1zM51 36h1v1h-1zM1 37h2v1h-2zM5 37h1v1h-1zM8 37h4v1h-4zM17 37h1v1h-1zM21 37h2v1h-2zM24 37h1v1h-1zM26 37h2v1h-2zM29 37h2v1h-2zM38 37h1v1h-1zM40 37h1v1h-1zM42 37h1v1h-1zM46 37h1v1h-1zM48 37h1v1h-1zM50 37h2v1h-2zM0 38h1v1h-1zM4 38h11v1h-11zM20 38h1v1h-1zM22 38h1v1h-1zM25 38h4v1h-4zM30 38h1v1h-1zM32 38h2v1h-2zM35 38h1v1h-1zM37 38h2v1h-2zM40 38h1v1h-1zM42 38h2v1h-2zM45 38h4v1h-4zM50 38h2v1h-2zM1 39h3v1h-3zM12 39h1v1h-1zM16 39h1v1h-1zM18 39h1v1h-1zM21 39h1v1h-1zM24 39h1v1h-1zM28 39h3v1h-3zM32 39h2v1h-2zM35 39h2v1h-2zM39 39h5v1h-5zM46 39h1v1h-1zM48 39h1v1h-1zM52 39h1v1h-1zM0 40h1v1h-1zM2 40h2v1h-2zM5 40h2v1h-2zM13 40h2v1h-2zM16 40h1v1h-1zM20 40h3v1h-3zM27 40h2v1h-2zM31 40h1v1h-1zM34 40h2v1h-2zM39 40h1v1h-1zM45 40h3v1h-3zM50 40h2v1h-2zM1 41h1v1h-1zM4 41h2v1h-2zM7 41h1v1h-1zM9 41h2v1h-2zM14 41h2v1h-2zM17 41h1v1h-1zM22 41h3v1h-3zM26 41h3v1h-3zM33 41h2v1h-2zM36 41h1v1h-1zM38 41h4v1h-4zM44 41h4v1h-4zM51 41h1v1h-1zM0 42h2v1h-2zM4 42h1v1h-1zM6 42h2v1h-2zM10 42h1v1h-1zM12 42h2v1h-2zM15 42h2v1h-2zM18 42h1v1h-1zM20 42h4v1h-4zM25 42h1v1h-1zM27 42h1v1h-1zM29 42h4v1h-4zM34 42h6v1h-6zM41 42h2v1h-2zM44 42h2v1h-2zM47 42h2v1h-2zM51 42h2v1h-2zM1 43h1v1h-1zM3 43h1v1h-1zM7 43h2v1h-2zM10 43h1v1h-1zM13 43h2v1h-2zM16 43h1v1h-1zM18 43h1v1h-1zM21 43h1v1h-1zM23 43h1v1h-1zM26 43h4v1h-4zM31 43h1v1h-1zM33 43h1v1h-1zM35 43h1v1h-1zM37 43h5v1h-5zM43 43h2v1h-2zM49 43h3v1h-3zM1 44h2v1h-2zM5 44h3v1h-3zM9 44h2v1h-2zM14 44h8v1h-8zM23 44h6v1h-6zM30 44h2v1h-2zM34 44h2v1h-2zM38 44h3v1h-3zM42 44h1v1h-1zM44 44h5v1h-5zM50 44h2v1h-2zM9 45h1v1h-1zM12 45h1v1h-1zM14 45h1v1h-1zM17 45h1v1h-1zM22 45h3v1h-3zM28 45h1v1h-1zM31 45h2v1h-2zM34 45h1v1h-1zM36 45h2v1h-2zM39 45h1v1h-1zM41 45h1v1h-1zM44 45h1v1h-1zM48 45h1v1h-1zM51 45h2v1h-2zM0 46h7v1h-7zM8 46h6v1h-6zM16 46h1v1h-1zM20 46h5v1h-5zM26 46h1v1h-1zM28 46h1v1h-1zM31 46h4v1h-4zM37 46h2v1h-2zM42 46h1v1h-1zM44 46h1v1h-1zM46 46h1v1h-1zM48 46h3v1h-3zM52 46h1v1h-1zM0 47h1v1h-1zM6 47h1v1h-1zM9 47h4v1h-4zM14 47h1v1h-1zM16 47h2v1h-2zM19 47h4v1h-4zM24 47h1v1h-1zM28 47h2v1h-2zM32 47h3v1h-3zM38 47h3v1h-3zM42 47h3v1h-3zM48 47h1v1h-1zM0 48h1v1h-1zM2 48h3v1h-3zM6 48h1v1h-1zM9 48h2v1h-2zM12 48h2v1h-2zM15 48h2v1h-2zM18 48h1v1h-1zM20 48h1v1h-1zM23 48h6v1h-6zM30 48h2v1h-2zM33 48h2v1h-2zM36 48h1v1h-1zM38 48h1v1h-1zM41 48h9v1h-9zM52 48h1v1h-1zM0 49h1v1h-1zM2 49h3v1h-3zM6 49h1v1h-1zM8 49h4v1h-4zM13 49h2v1h-2zM16 49h1v1h-1zM23 49h1v1h-1zM25 49h1v1h-1zM29 49h2v1h-2zM34 49h1v1h-1zM36 49h1v1h-1zM39 49h1v1h-1zM42 49h3v1h-3zM47 49h3v1h-3zM51 49h1v1h-1zM0 50h1v1h-1zM2 50h3v1h-3zM6 50h1v1h-1zM9 50h3v1h-3zM15 50h2v1h-2zM19 50h3v1h-3zM23 50h1v1h-1zM26 50h3v1h-3zM31 50h4v1h-4zM36 50h3v1h-3zM40 50h3v1h-3zM44 50h2v1h-2zM47 50h2v1h-2zM50 50h1v1h-1zM0 51h1v1h-1zM6 51h1v1h-1zM9 51h2v1h-2zM15 51h1v1h-1zM20 51h1v1h-1zM22 51h4v1h-4zM27 51h7v1h-7zM35 51h2v1h-2zM38 51h5v1h-5zM46 51h1v1h-1zM49 51h2v1h-2zM0 52h7v1h-7zM8 52h4v1h-4zM13 52h3v1h-3zM19 52h1v1h-1zM23 52h1v1h-1zM26 52h3v1h-3zM33 52h2v1h-2zM37 52h1v1h-1zM39 52h4v1h-4zM44 52h2v1h-2zM47 52h3v1h-3z" fill="#0a0a0a"/></svg>
<svg class="b" style="left:0;top:0;will-change:transform" width="1080" height="3021" viewBox="0 0 1080 3021" font-family="Liberation Sans, sans-serif" text-rendering="geometricPrecision">
<text transform="translate(324.28 44.20) scale(0.9612 1)" font-size="24.75" fill="#4d0d33" stroke="#4d0d33" stroke-width="0.5" stroke-linejoin="round">SG</text>
<text transform="translate(375.84 50.80) scale(0.8526 1)" font-size="39.52" fill="#f1f2f6">Lion-OCBC Sec</text>
<text transform="translate(664.18 50.80) scale(0.8978 1)" font-size="39.52" fill="#f1f2f6">(HST)</text>
<text transform="translate(253.02 101.00) scale(0.9750 1)" font-size="37.44" fill="#9da1ba" stroke="#9da1ba" stroke-width="0.7" stroke-linejoin="round">Market Closed 06/11 17:06:02 SGT</text>
<text transform="translate(197.60 295.70) scale(0.8523 1)" font-size="41.08" fill="#8a8ea6" stroke="#8a8ea6" stroke-width="0.7" stroke-linejoin="round">SGD</text>
<text transform="translate(316.78 293.60) scale(0.9498 1)" font-size="108.5" fill="#3bca82" stroke="#3bca82" stroke-width="1.3" stroke-linejoin="round">1.323</text>
<text x="621.43" y="245.20" font-size="42.64" fill="#3bca82" letter-spacing="1.646" stroke="#3bca82" stroke-width="0.85" stroke-linejoin="round">+0.003</text>
<text x="621.43" y="305.80" font-size="42.64" fill="#3bca82" letter-spacing="2.313" stroke="#3bca82" stroke-width="0.85" stroke-linejoin="round">+0.23%</text>
<text x="45.41" y="462.60" font-size="42.64" fill="#a0a4be" letter-spacing="0.797" stroke="#a0a4be" stroke-width="0.8" stroke-linejoin="round">Bid</text>
<text x="140.79" y="462.60" font-size="41.6" fill="#3bca82" letter-spacing="-0.472" stroke="#3bca82" stroke-width="0.8" stroke-linejoin="round">1.323</text>
<text x="380.70" y="462.60" font-size="41.6" fill="#a0a4be" letter-spacing="-0.014" stroke="#a0a4be" stroke-width="0.8" stroke-linejoin="round">2.00K</text>
<text transform="translate(583.18 462.60) scale(0.9512 1)" font-size="42.64" fill="#a0a4be" stroke="#a0a4be" stroke-width="0.8" stroke-linejoin="round">Ask</text>
<text x="685.39" y="462.60" font-size="41.6" fill="#3bca82" letter-spacing="-0.572" stroke="#3bca82" stroke-width="0.8" stroke-linejoin="round">1.326</text>
<text transform="translate(967.26 462.60) scale(0.9740 1)" font-size="41.6" fill="#a0a4be" stroke="#a0a4be" stroke-width="0.8" stroke-linejoin="round">120</text>
<text transform="translate(148.88 584.20) scale(0.9006 1)" font-size="38.48" fill="#989cb6" stroke="#989cb6" stroke-width="0.8" stroke-linejoin="round">1D</text>
<text transform="translate(264.02 584.20) scale(0.8893 1)" font-size="38.48" fill="#989cb6" stroke="#989cb6" stroke-width="0.8" stroke-linejoin="round">5D</text>
<text transform="translate(389.37 584.20) scale(0.8576 1)" font-size="38.48" fill="#f5c51b" stroke="#f5c51b" stroke-width="0.8" stroke-linejoin="round">D</text>
<text transform="translate(501.35 584.20) scale(0.8776 1)" font-size="38.48" fill="#989cb6" stroke="#989cb6" stroke-width="0.8" stroke-linejoin="round">W</text>
<text transform="translate(616.57 584.20) scale(0.9333 1)" font-size="38.48" fill="#989cb6" stroke="#989cb6" stroke-width="0.8" stroke-linejoin="round">M</text>
<text transform="translate(733.86 584.20) scale(0.8429 1)" font-size="38.48" fill="#989cb6" stroke="#989cb6" stroke-width="0.8" stroke-linejoin="round">Q</text>
<text transform="translate(850.42 584.20) scale(0.8108 1)" font-size="38.48" fill="#989cb6" stroke="#989cb6" stroke-width="0.8" stroke-linejoin="round">Y</text>
<text x="930.20" y="584.20" font-size="38.48" fill="#989cb6" letter-spacing="2.981" stroke="#989cb6" stroke-width="0.8" stroke-linejoin="round">More</text>
<text x="20.95" y="671.70" font-size="34.32" fill="#a3a6be" letter-spacing="0.656" stroke="#a3a6be" stroke-width="0.3" stroke-linejoin="round">Split-Adjusted</text>
<text x="268.73" y="665.70" font-size="32.24" fill="#eceef3" stroke="#eceef3" stroke-width="0.65" stroke-linejoin="round">EMA(5,10,20)</text>
<text x="517.33" y="665.70" font-size="32.24" fill="#f0743a" letter-spacing="0.295" stroke="#f0743a" stroke-width="0.65" stroke-linejoin="round">EMA5:1.328</text>
<text x="745.83" y="665.70" font-size="32.24" fill="#f5c51b" letter-spacing="0.391" stroke="#f5c51b" stroke-width="0.65" stroke-linejoin="round">EMA10:1.332</text>
<text x="268.73" y="713.80" font-size="32.24" fill="#a55fd8" letter-spacing="0.066" stroke="#a55fd8" stroke-width="0.65" stroke-linejoin="round">EMA20:1.336</text>
<text x="71.56" y="823.80" font-size="23.92" fill="#8d90a8" letter-spacing="-0.077">1.478</text>
<text x="6.78" y="1238.20" font-size="27.56" fill="#e6e8ee" letter-spacing="1.635" stroke="#e6e8ee" stroke-width="0.55" stroke-linejoin="round">Vol</text>
<text x="76.32" y="1238.20" font-size="27.56" fill="#e6e8ee" letter-spacing="1.026" stroke="#e6e8ee" stroke-width="0.55" stroke-linejoin="round">6.94M shares</text>
<text x="159.70" y="1411.90" font-size="27.56" fill="#8d90a8" letter-spacing="1.124" stroke="#8d90a8" stroke-width="0.5" stroke-linejoin="round">2021/4</text>
<text x="538.80" y="1411.90" font-size="27.56" fill="#8d90a8" letter-spacing="1.174" stroke="#8d90a8" stroke-width="0.5" stroke-linejoin="round">2021/5</text>
<text x="880.40" y="1411.90" font-size="27.56" fill="#8d90a8" letter-spacing="1.174" stroke="#8d90a8" stroke-width="0.5" stroke-linejoin="round">2021/6</text>
<text x="625.26" y="1169.50" font-size="23.92" fill="#33343f" letter-spacing="-0.077">1.248</text>
<text x="322.44" y="1208.60" font-size="39.1" fill="#eceef3" letter-spacing="1.332" stroke="#eceef3" stroke-width="0.8" stroke-linejoin="round">11-06: falling trend with fluctuation</text>
<text x="31.24" y="1491.00" font-size="39.85" fill="#9599b3" letter-spacing="-0.281">High</text>
<text transform="translate(260.84 1491.00) scale(0.9189 1)" font-size="38.5" fill="#eceef3" stroke="#eceef3" stroke-width="0.8" stroke-linejoin="round">1.335</text>
<text x="31.24" y="1565.00" font-size="39.85" fill="#9599b3" letter-spacing="-0.338">Low</text>
<text transform="translate(261.40 1565.00) scale(0.8944 1)" font-size="38.5" fill="#eceef3" stroke="#eceef3" stroke-width="0.8" stroke-linejoin="round">1.321</text>
<text x="33.75" y="1639.00" font-size="39.85" fill="#9599b3" letter-spacing="-0.455">T/O</text>
<text transform="translate(234.64 1639.00) scale(0.9341 1)" font-size="38.5" fill="#eceef3" stroke="#eceef3" stroke-width="0.8" stroke-linejoin="round">616.3K</text>
<text x="34.50" y="1713.00" font-size="39.85" fill="#9599b3" letter-spacing="0.059">Vol</text>
<text transform="translate(235.58 1713.00) scale(0.9264 1)" font-size="38.5" fill="#eceef3" stroke="#eceef3" stroke-width="0.8" stroke-linejoin="round">464.7K</text>
<text x="31.24" y="1819.00" font-size="39.85" fill="#9599b3" letter-spacing="-0.411">Dividend</text>
<text x="31.24" y="1893.00" font-size="39.85" fill="#9599b3" letter-spacing="-0.451">Dividend Yield</text>
<text transform="translate(31.58 1967.00) scale(0.8953 1)" font-size="39.85" fill="#9599b3">ROA</text>
<text transform="translate(31.65 2041.00) scale(0.8751 1)" font-size="39.85" fill="#9599b3">ROE</text>
<text transform="translate(381.55 1491.00) scale(0.9413 1)" font-size="39.85" fill="#9599b3">Open</text>
<text transform="translate(608.83 1491.00) scale(0.9242 1)" font-size="38.5" fill="#eceef3" stroke="#eceef3" stroke-width="0.8" stroke-linejoin="round">1.330</text>
<text transform="translate(381.28 1565.00) scale(0.9568 1)" font-size="39.85" fill="#9599b3">Close</text>
<text transform="translate(608.83 1565.00) scale(0.9242 1)" font-size="38.5" fill="#eceef3" stroke="#eceef3" stroke-width="0.8" stroke-linejoin="round">1.320</text>
<text transform="translate(381.33 1639.00) scale(0.9313 1)" font-size="39.85" fill="#9599b3">Change(%)</text>
<text transform="translate(597.14 1639.00) scale(0.9213 1)" font-size="38.5" fill="#eceef3" stroke="#eceef3" stroke-width="0.8" stroke-linejoin="round">1.06%</text>
<text x="379.94" y="1713.00" font-size="39.85" fill="#9599b3" letter-spacing="0.600">P/E</text>
<text x="444.75" y="1695.00" font-size="20.8" fill="#9599b3" letter-spacing="-0.424">TTM</text>
<text x="379.94" y="1819.00" font-size="39.85" fill="#9599b3" letter-spacing="0.600">P/E</text>
<text x="444.10" y="1801.00" font-size="20.8" fill="#9599b3" letter-spacing="-0.094">LYR</text>
<text transform="translate(380.23 1893.00) scale(0.9105 1)" font-size="39.85" fill="#9599b3">EPS</text>
<text transform="translate(452.36 1875.00) scale(0.9474 1)" font-size="20.8" fill="#9599b3">TTM</text>
<text transform="translate(380.23 1967.00) scale(0.9105 1)" font-size="39.85" fill="#9599b3">EPS</text>
<text x="451.10" y="1949.00" font-size="20.8" fill="#9599b3" letter-spacing="-0.094">LYR</text>
<text x="379.94" y="2041.00" font-size="39.85" fill="#9599b3" letter-spacing="1.551">P/B</text>
<text transform="translate(731.50 1491.00) scale(0.9466 1)" font-size="39.85" fill="#9599b3">Volume%</text>
<text transform="translate(977.80 1491.00) scale(0.9135 1)" font-size="38.5" fill="#eceef3" stroke="#eceef3" stroke-width="0.8" stroke-linejoin="round">0.65</text>
<text transform="translate(730.78 1565.00) scale(0.9536 1)" font-size="39.85" fill="#9599b3">T/O Rate</text>
<text transform="translate(729.72 1639.00) scale(0.9756 1)" font-size="39.85" fill="#9599b3">Mkt Cap</text>
<text transform="translate(728.36 1713.00) scale(0.9647 1)" font-size="39.85" fill="#9599b3">Float Cap</text>
<text transform="translate(730.51 1814.00) scale(0.9756 1)" font-size="24.54" fill="#9599b3">Total Outstanding Shares</text>
<text transform="translate(1027.33 1819.00) scale(0.8808 1)" font-size="38.5" fill="#eceef3" stroke="#eceef3" stroke-width="0.8" stroke-linejoin="round">0</text>
<text x="728.24" y="1893.00" font-size="39.85" fill="#9599b3" letter-spacing="-0.317">Flow of Equity</text>
<text x="730.00" y="1967.00" font-size="39.85" fill="#9599b3" letter-spacing="-0.151">52wk High</text>
<text transform="translate(977.43 1967.00) scale(0.9215 1)" font-size="38.5" fill="#eceef3" stroke="#eceef3" stroke-width="0.8" stroke-linejoin="round">1.83</text>
<text x="730.00" y="2041.00" font-size="39.85" fill="#9599b3" letter-spacing="-0.420">52wk Low</text>
<text transform="translate(977.44 2041.00) scale(0.9182 1)" font-size="38.5" fill="#eceef3" stroke="#eceef3" stroke-width="0.8" stroke-linejoin="round">1.25</text>
<text x="617.31" y="2102.50" font-size="36.4" fill="#8589a4" letter-spacing="1.013" stroke="#8589a4" stroke-width="0.7" stroke-linejoin="round">Parameter Definitions</text>
<text transform="translate(136.77 2174.50) scale(0.9688 1)" font-size="34.32" fill="#a6a9c0">1.323</text>
<text transform="translate(28.95 2305.20) scale(0.9616 1)" font-size="34.32" fill="#a6a9c0">Low1.321</text>
<text transform="translate(897.45 2305.20) scale(0.9618 1)" font-size="34.32" fill="#a6a9c0">High1.335</text>
<text transform="translate(387.21 2313.10) scale(0.9610 1)" font-size="33.8" fill="#a6a9c0">Intraday Price Range</text>
<text transform="translate(122.17 2414.50) scale(0.9688 1)" font-size="34.32" fill="#a6a9c0">1.323</text>
<text x="28.84" y="2545.20" font-size="34.32" fill="#a6a9c0" letter-spacing="-0.499">Low1.248</text>
<text transform="translate(897.45 2545.20) scale(0.9634 1)" font-size="34.32" fill="#a6a9c0">High1.832</text>
<text transform="translate(342.40 2553.10) scale(0.9561 1)" font-size="33.8" fill="#a6a9c0">52-Week Price Float Range</text>
<text transform="translate(180.47 2841.60) scale(0.9151 1)" font-size="40.56" fill="#111111" font-weight="bold">TIGER</text>
<text transform="translate(178.45 2883.80) scale(0.8994 1)" font-size="40.56" fill="#111111" font-weight="bold">BROKERS</text>
<text x="559.54" y="2842.20" font-size="29.12" fill="#151515" letter-spacing="-0.259" stroke="#151515" stroke-width="0.8" stroke-linejoin="round">Scan the QR code to</text>
<text x="563.90" y="2878.60" font-size="29.12" fill="#151515" letter-spacing="0.285" stroke="#151515" stroke-width="0.8" stroke-linejoin="round">get a share of Tesla</text>
</svg>
</body></html>
